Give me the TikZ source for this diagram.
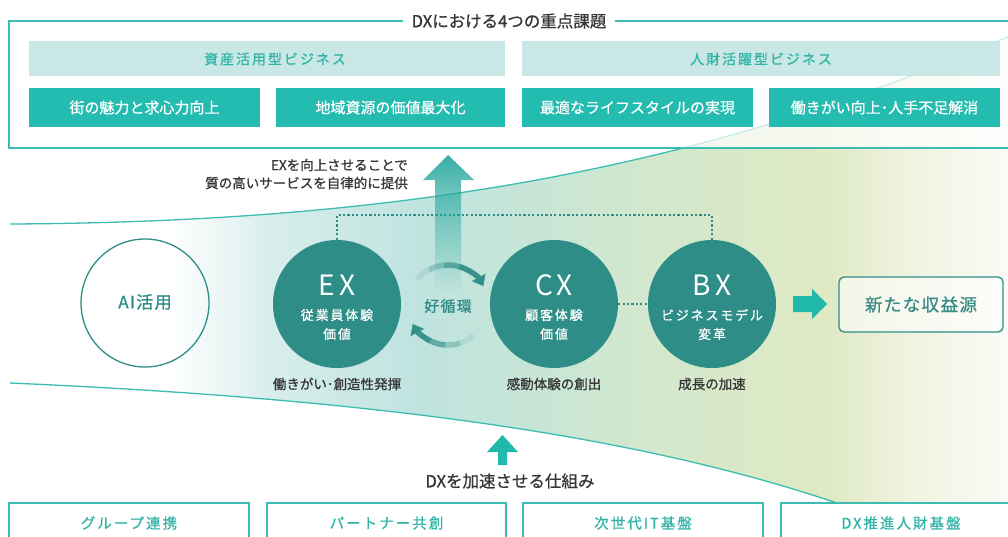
\documentclass[tikz,border=0pt]{standalone}
\usepackage{fontspec}
\setmainfont{Noto Sans CJK JP}[FakeBold=0.7]
\newfontfamily\lsA[LetterSpace=14,FakeBold=0.7]{Noto Sans CJK JP}
\newfontfamily\lsB[LetterSpace=8,FakeBold=1.0]{Noto Sans CJK JP}
\newfontfamily\lsC[LetterSpace=14]{Noto Sans CJK JP}
\usetikzlibrary{arrows.meta,fadings}
\newcommand{\myfs}[1]{\fontsize{#1}{#1}\selectfont}

\definecolor{tealline}{HTML}{3DBCB1}
\definecolor{hdrbg}{HTML}{C9E8E5}
\definecolor{hdrtxt}{HTML}{31B4A8}
\definecolor{tiletl}{HTML}{24BCB0}
\definecolor{circ}{HTML}{2E8D86}
\definecolor{darktxt}{HTML}{363636}
\definecolor{boxtxt}{HTML}{3A8C86}
\definecolor{arrtl}{HTML}{22B9AD}
\definecolor{bigarr}{HTML}{25A89E}
\definecolor{fa2}{HTML}{D8EEEC}
\definecolor{fa3}{HTML}{BFE3DF}
\definecolor{fa4}{HTML}{C4E5D9}
\definecolor{fa5}{HTML}{D4E8CC}
\definecolor{fa6}{HTML}{DFE9C3}
\definecolor{fa7}{HTML}{EEF3DF}
\definecolor{fa8}{HTML}{FBFBF6}

\pgfdeclarehorizontalshading{funnel}{100bp}{color(0bp)=(white); color(25bp)=(white); color(33bp)=(white); color(38bp)=(fa2); color(45.5bp)=(fa3); color(49.5bp)=(fa4); color(57.6bp)=(fa5); color(65.6bp)=(fa6); color(69.6bp)=(fa7); color(75bp)=(fa8); color(100bp)=(fa8)}

\tikzfading[name=upfade, top color=transparent!8, middle color=transparent!25, bottom color=transparent!100]

\tikzset{
  frameline/.style={draw=tealline, line width=1.3pt},
  hdr/.style={fill=hdrbg, minimum height=35pt, inner sep=0pt},
  hdrtext/.style={text=hdrtxt, font=\lsA\myfs{14}, inner sep=0pt},
  tile/.style={fill=tiletl, text=white, minimum height=39pt, inner sep=0pt, font=\myfs{15}},
  bigcirc/.style={circle, fill=circ, minimum size=128pt, inner sep=0pt},
  bigletters/.style={text=white, font=\lsC\myfs{28}, inner sep=0pt},
  circtext/.style={text=white, font=\lsA\myfs{13}, inner sep=0pt},
  undertext/.style={text=darktxt, font=\myfs{13.5}, inner sep=0pt},
  dotline/.style={draw=circ, line width=2.2pt, dash pattern=on 2.2pt off 2.2pt},
  cyc/.style={draw=circ, line width=5.5pt},
  bbox/.style={draw=tealline, line width=1.3pt, fill=white, minimum height=40pt, minimum width=240pt, text=hdrtxt, font=\lsA\myfs{14.5}, inner sep=0pt},
}

\begin{document}
\begin{tikzpicture}[x=1pt,y=1pt]
\useasboundingbox (0,0) rectangle (1008,-536);
\clip (0,0) rectangle (1008,-536);
\fill[white] (0,0) rectangle (1008,-536);

% funnel
\path[shading=funnel] (10,-224) .. controls (400,-222) and (700,-170) .. (1012,-35) -- (1012,-503) -- (837,-503) .. controls (650,-440) and (400,-400) .. (10,-383) -- cycle;
\draw[tealline, line width=1.3pt] (10,-224) .. controls (400,-222) and (700,-170) .. (1012,-35);
\draw[tealline, line width=1.3pt] (10,-383) .. controls (400,-400) and (650,-440) .. (837,-503);

% top frame
\fill[white, opacity=0.72] (9,-21) rectangle (1012,-148);
\draw[frameline] (1012,-21) -- (9,-21) -- (9,-148) -- (1012,-148);
\node[fill=white, inner xsep=9pt, inner ysep=2pt, text=darktxt, font=\myfs{16.5}] (title) at (509,-21) {DXにおける4つの重点課題};

\node[hdr, minimum width=476pt] (h1) at (267,-58.5) {};
\node[hdrtext] (h1t) at (275,-59) {資産活用型ビジネス};
\node[hdr, minimum width=478pt] (h2) at (761,-58.5) {};
\node[hdrtext] (h2t) at (761,-59) {人財活躍型ビジネス};

\node[tile, minimum width=231pt] (t1) at (144.5,-107.5) {街の魅力と求心力向上};
\node[tile, minimum width=229pt] (t2) at (390.5,-107.5) {地域資源の価値最大化};
\node[tile, minimum width=231pt] (t3) at (637.5,-107.5) {最適なライフスタイルの実現};
\node[tile, minimum width=231pt] (t4) at (884.5,-107.5) {働きがい向上･人手不足解消};

% circles
\node[circle, draw=circ, line width=1.3pt, minimum size=128pt, inner sep=0pt] (ai) at (145,-303) {};
\node[text=circ, font=\lsB\myfs{17}, inner sep=0pt] (ait) at (145,-302) {AI活用};

\node[bigcirc] (ex) at (337,-304) {};
\node[bigcirc] (cx) at (554,-304) {};
\node[bigcirc] (bx) at (712,-304) {};

% dotted links
\draw[dotline] (ex.north) -- (337,-215) -- (712,-215) -- (bx.north);
\draw[dotline] (cx.east) -- (bx.west);

% big up arrow
\fill[bigarr, path fading=upfade] (435,-292) -- (435,-180) -- (423,-180) -- (448,-155) -- (474,-180) -- (461,-180) -- (461,-292) -- cycle;

% cycle arrows
\coordinate (cy) at (448,-305);
\foreach \a/\b/\o in {140/118/0.12, 118/96/0.35, 96/74/0.65}
  \draw[cyc, opacity=\o] ([shift={(\a:40)}]cy) arc[start angle=\a, end angle=\b, radius=40];
\draw[cyc, opacity=0.92, -{Triangle[length=10pt,width=15pt]}] ([shift={(74:40)}]cy) arc[start angle=74, end angle=28, radius=40];
\foreach \a/\b/\o in {310/288/0.12, 288/266/0.35, 266/244/0.65}
  \draw[cyc, opacity=\o] ([shift={(\a:40)}]cy) arc[start angle=\a, end angle=\b, radius=40];
\draw[cyc, opacity=0.92, -{Triangle[length=10pt,width=15pt]}] ([shift={(244:40)}]cy) arc[start angle=244, end angle=208, radius=40];
\node[text=circ, font=\lsB\myfs{15}, inner sep=0pt] (cyt) at (448,-306) {好循環};

% circle texts
\node[bigletters] (ext) at (337,-285) {EX};
\node[circtext] (ex1) at (337,-315) {従業員体験};
\node[circtext] (ex2) at (337,-334) {価値};
\node[bigletters] (cxt) at (554,-285) {CX};
\node[circtext] (cx1) at (554,-315) {顧客体験};
\node[circtext] (cx2) at (554,-334) {価値};
\node[bigletters] (bxt) at (712,-285) {BX};
\node[circtext] (bx1) at (712,-315) {ビジネスモデル};
\node[circtext] (bx2) at (712,-334) {変革};

\node[undertext] (exu) at (337,-384) {働きがい･創造性発揮};
\node[undertext] (cxu) at (554,-384) {感動体験の創出};
\node[undertext] (bxu) at (712,-384) {成長の加速};

\node[undertext, anchor=east] (ex3) at (408,-165) {EXを向上させることで};
\node[undertext, anchor=east] (ex4) at (408,-183) {質の高いサービスを自律的に提供};

% right arrow and result box
\node[draw=circ, line width=1.3pt, rounded corners=5pt, fill=white, fill opacity=0.55, text opacity=1, minimum width=164pt, minimum height=55pt, text=boxtxt, font=\lsB\myfs{17.5}, inner sep=0pt] (rev) at (921,-304.5) {新たな収益源};
\fill[arrtl] (793,-296) -- (812,-296) -- (812,-289) -- (827,-304) -- (812,-319) -- (812,-312) -- (793,-312) -- cycle;

% bottom arrow
\fill[arrtl] (498,-465) -- (498,-452) -- (487,-452) -- (502.5,-435) -- (518,-452) -- (507,-452) -- (507,-465) -- cycle;
\node[text=darktxt, font=\myfs{16.5}, inner sep=0pt] (dx) at (510,-481) {DXを加速させる仕組み};

% bottom boxes
\node[bbox] (b1) at (129,-523) {グループ連携};
\node[bbox, minimum width=239pt] (b2) at (386.5,-523) {パートナー共創};
\node[bbox] (b3) at (643,-523) {次世代IT基盤};
\node[bbox] (b4) at (901,-523) {DX推進人財基盤};
\end{tikzpicture}
\end{document}
